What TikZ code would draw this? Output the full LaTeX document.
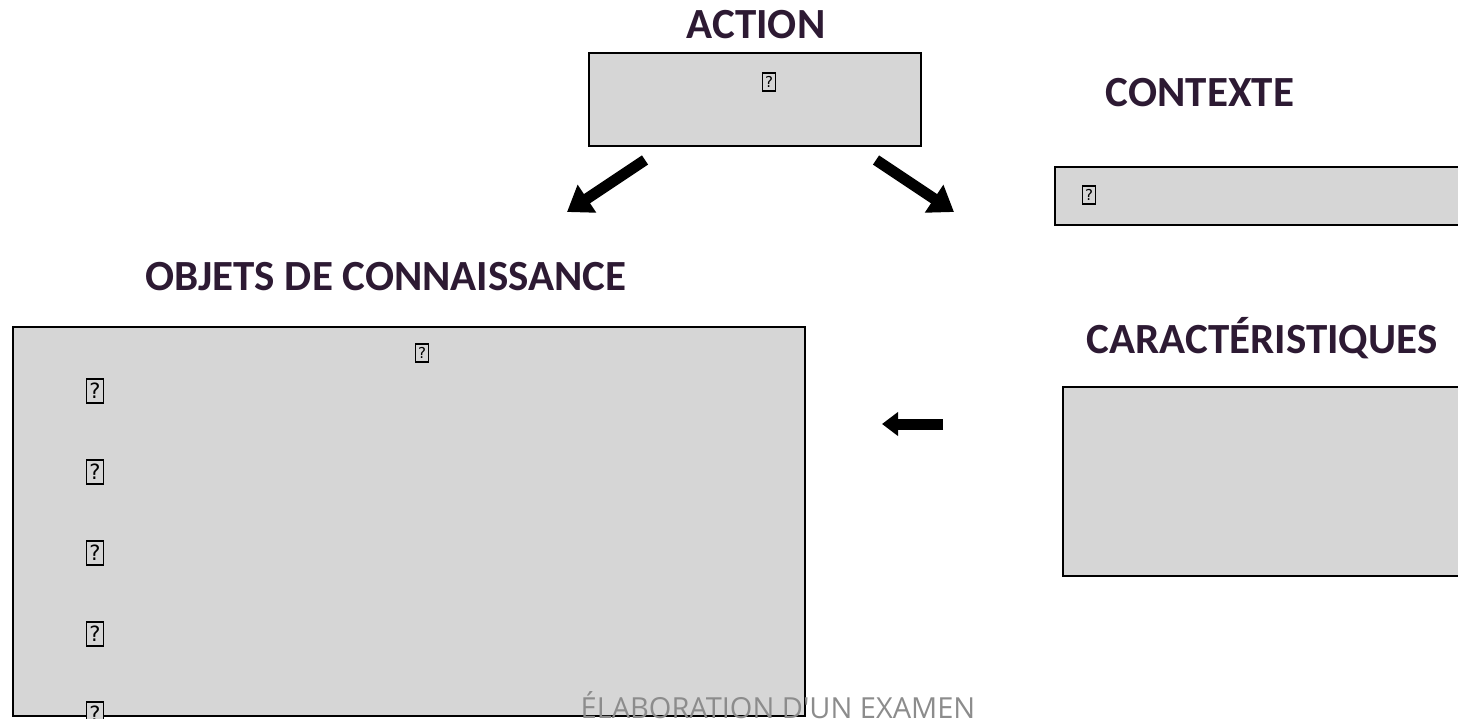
\documentclass[tikz,border=0pt]{standalone}
\usepackage{fontspec}
\setmainfont{Carlito}
\newfontfamily\footfont{Open Sans}
\newfontfamily\qfont{DejaVu Sans}
\usetikzlibrary{arrows.meta}
\definecolor{titlecol}{HTML}{2D1A33}
\definecolor{boxfill}{HTML}{D6D6D6}
\definecolor{footgray}{HTML}{8C8C8C}
\tikzset{
  title/.style={font=\fontsize{43}{50}\selectfont\bfseries, text=titlecol, anchor=base, inner sep=0pt},
  greybox/.style={draw=black, line width=2pt, fill=boxfill, anchor=north west, inner sep=0pt, outer sep=0pt},
  qbig/.style={draw=black, line width=1.5pt, fill=boxfill, inner sep=0pt, minimum width=17pt, minimum height=24pt, font=\qfont\fontsize{21}{22}\selectfont},
  qsmall/.style={draw=black, line width=1.2pt, fill=boxfill, inner sep=0pt, minimum width=13pt, minimum height=18pt, font=\qfont\fontsize{15}{16}\selectfont},
  bigarrow/.style={line width=11pt, -{Triangle[length=24pt,width=32pt]}},
  smallarrow/.style={line width=11pt, -{Triangle[length=16pt,width=23pt]}}
}
\begin{document}
\begin{tikzpicture}[x=1pt,y=-1pt]
\useasboundingbox (0,0) rectangle (1458,719);
% boxes
\node[greybox, minimum width=332pt, minimum height=93pt] (actbox) at (589,53) {};
\node[greybox, minimum width=430pt, minimum height=58pt] (ctxbox) at (1055,167) {};
\node[greybox, minimum width=430pt, minimum height=189pt] (carbox) at (1063,387) {};
\node[greybox, minimum width=792pt, minimum height=389pt] (objbox) at (13,327) {};
% titles
\node[title] (acttitle) at (756,39) {ACTION};
\node[title] (ctxtitle) at (1200,107) {CONTEXTE};
\node[title] (objtitle) at (386,290) {OBJETS DE CONNAISSANCE};
\node[title] (cartitle) at (1262,353) {CARACTÉRISTIQUES};
% missing glyph boxes
\node[qsmall] (q1) at (769,82) {?};
\node[qsmall] (q2) at (1089,195) {?};
\node[qsmall] (q3) at (422,353) {?};
\node[qbig] (q4) at (95,391) {?};
\node[qbig] (q5) at (95,472) {?};
\node[qbig] (q6) at (95,553) {?};
\node[qbig] (q7) at (95,634) {?};
\node[qbig] (q8) at (95,714) {?};
% arrows
\coordinate (la1) at (645,160);
\coordinate (la2) at (567,212);
\coordinate (ra1) at (876,160);
\coordinate (ra2) at (954,212);
\coordinate (ha1) at (943,424);
\coordinate (ha2) at (882,424);
\draw[bigarrow] (la1) -- (la2);
\draw[bigarrow] (ra1) -- (ra2);
\draw[smallarrow] (ha1) -- (ha2);
% footer
\node[font=\footfont\fontsize{29}{32}\selectfont, text=footgray, anchor=base, inner sep=0pt] (footer) at (778,718) {ÉLABORATION D'UN EXAMEN};
\end{tikzpicture}
\end{document}
